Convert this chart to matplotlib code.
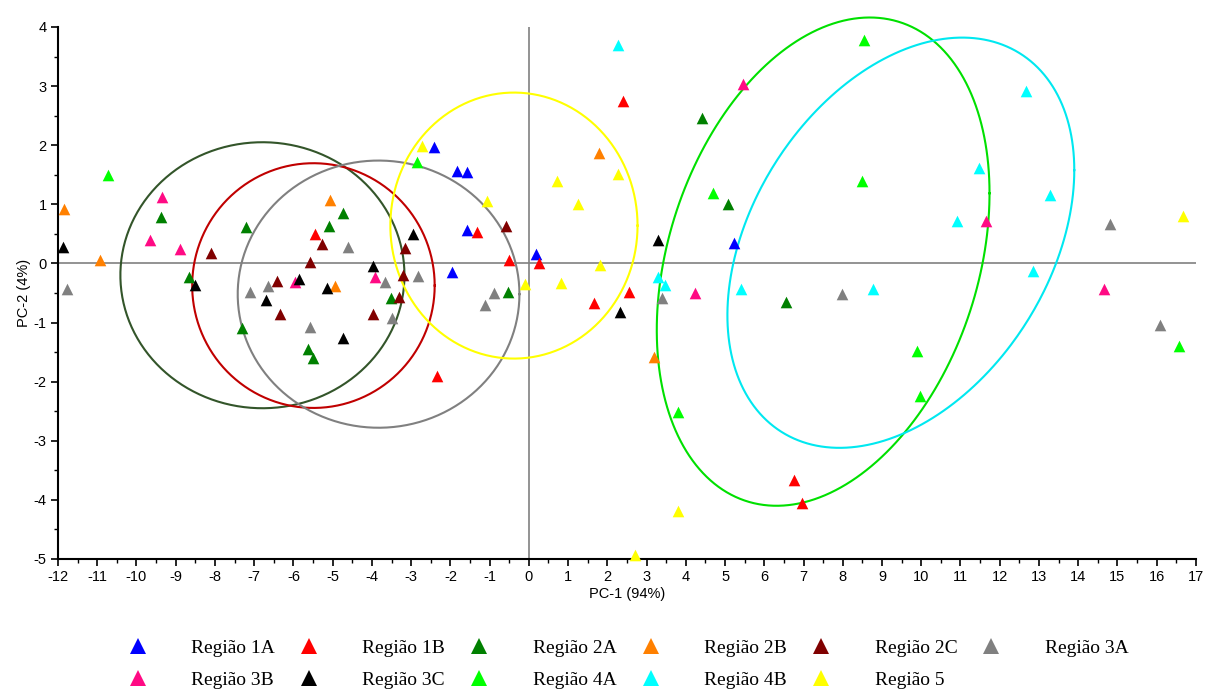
import numpy as np
import matplotlib.pyplot as plt
from matplotlib.lines import Line2D
from matplotlib.ticker import MultipleLocator

# PCA scores, one pair of lists per region
r1a_x = [-2.43, -1.82, -1.57, -1.57, -1.95, 0.19, 5.24]
r1a_y = [1.97, 1.57, 1.55, 0.57, -0.14, 0.16, 0.35]
r1b_x = [2.41, -1.31, -0.50, 0.27, 2.56, 1.67, -2.33, -5.46, 6.75, 6.95]
r1b_y = [2.75, 0.53, 0.05, 0.00, -0.48, -0.67, -1.91, 0.50, -3.67, -4.05]
r2a_x = [-9.37, -8.67, -7.22, -5.10, -4.73, -7.30, -5.64, -5.49, -3.51, -0.52, 4.42, 5.08, 6.56]
r2a_y = [0.79, -0.23, 0.62, 0.64, 0.85, -1.09, -1.44, -1.60, -0.59, -0.48, 2.46, 1.00, -0.65]
r2b_x = [-11.84, -10.92, -5.08, -4.93, 1.80, 3.20]
r2b_y = [0.92, 0.05, 1.08, -0.38, 1.87, -1.58]
r2c_x = [-8.10, -6.41, -5.58, -5.28, -6.33, -3.97, -3.32, -3.15, -3.20, -0.58]
r2c_y = [0.18, -0.29, 0.02, 0.33, -0.86, -0.85, -0.56, 0.26, -0.20, 0.64]
r3a_x = [-11.78, -7.10, -6.64, -4.62, -3.66, -5.58, -3.50, -2.82, -0.90, -1.11, 3.40, 7.99, 16.09, 14.82]
r3a_y = [-0.44, -0.49, -0.38, 0.28, -0.32, -1.08, -0.92, -0.21, -0.50, -0.71, -0.59, -0.52, -1.05, 0.67]
r3b_x = [-9.34, -9.65, -8.90, -5.96, -3.93, 5.46, 4.24, 11.66, 14.66]
r3b_y = [1.12, 0.39, 0.24, -0.32, -0.23, 3.03, -0.50, 0.71, -0.43]
r3c_x = [-11.87, -8.50, -5.86, -5.15, -3.97, -6.69, -4.74, -2.94, 3.30, 2.33]
r3c_y = [0.28, -0.36, -0.27, -0.42, -0.05, -0.62, -1.27, 0.50, 0.40, -0.82]
r4a_x = [-10.72, -2.85, 4.70, 8.55, 8.48, 9.90, 9.98, 16.58, 3.79]
r4a_y = [1.50, 1.72, 1.19, 3.78, 1.40, -1.49, -2.25, -1.39, -2.52]
r4b_x = [2.26, 3.28, 3.48, 5.41, 12.68, 11.46, 13.29, 10.92, 12.86, 8.76]
r4b_y = [3.69, -0.23, -0.36, -0.44, 2.91, 1.61, 1.16, 0.71, -0.12, -0.43]
r5_x = [-2.72, -1.06, 0.73, 1.24, 2.28, 1.82, -0.11, 0.83, 3.81, 2.71, 16.68]
r5_y = [1.99, 1.06, 1.40, 1.00, 1.51, -0.02, -0.35, -0.33, -4.18, -4.94, 0.80]

region_names = ['Região 1A', 'Região 1B', 'Região 2A', 'Região 2B', 'Região 2C', 'Região 3A',
                'Região 3B', 'Região 3C', 'Região 4A', 'Região 4B', 'Região 5']
region_colors = ['#0000ff', '#ff0000', '#008000', '#ff8000', '#800000', '#808080',
                 '#ff0a84', '#000000', '#00ff00', '#00ffff', '#ffff00']
region_x = [r1a_x, r1b_x, r2a_x, r2b_x, r2c_x, r3a_x, r3b_x, r3c_x, r4a_x, r4b_x, r5_x]
region_y = [r1a_y, r1b_y, r2a_y, r2b_y, r2c_y, r3a_y, r3b_y, r3c_y, r4a_y, r4b_y, r5_y]

# confidence ellipses: centre, half extents, and x/y coupling (0 = axis aligned)
ell_cx = [-6.79, -5.49, -3.83, -0.38, 7.50, 9.48]
ell_cy = [-0.20, -0.375, -0.52, 0.64, 0.03, 0.35]
ell_hx = [3.62, 3.09, 3.59, 3.15, 4.24, 4.42]
ell_hy = [2.25, 2.07, 2.26, 2.25, 4.13, 3.47]
ell_k = [0.0, 0.0, 0.0, 0.0, 0.28, 0.354]
ell_colors = ['#33552a', '#c00000', '#808080', '#ffff00', '#00e000', '#00e8f0']


def ellipse_points(cx, cy, hx, hy, k, n=400):
    t = np.linspace(0, 2 * np.pi, n)
    phi = np.arccos(k)
    return cx + hx * np.cos(t), cy + hy * np.cos(t - phi)


def main():
    plt.rcParams['font.family'] = ['Liberation Sans', 'DejaVu Sans']
    plt.rcParams['axes.unicode_minus'] = False
    fig = plt.figure(figsize=(12.08, 6.93), dpi=100)
    ax = fig.add_axes([0.048, 0.1934, 0.942, 0.7677])

    ax.axhline(0, color='#808080', lw=1.2, zorder=1)
    ax.axvline(0, color='#808080', lw=1.2, zorder=1)

    for cx, cy, hx, hy, k, c in zip(ell_cx, ell_cy, ell_hx, ell_hy, ell_k, ell_colors):
        ex, ey = ellipse_points(cx, cy, hx, hy, k)
        ax.plot(ex, ey, color=c, lw=1.5, zorder=2, clip_on=False)

    for xs, ys, c in zip(region_x, region_y, region_colors):
        ax.scatter(xs, ys, marker='^', s=70, color=c, linewidths=0, zorder=3, clip_on=False)

    ax.set_xlim(-12, 17)
    ax.set_ylim(-5, 4)
    ax.xaxis.set_major_locator(MultipleLocator(1))
    ax.xaxis.set_minor_locator(MultipleLocator(0.5))
    ax.yaxis.set_major_locator(MultipleLocator(1))
    ax.yaxis.set_minor_locator(MultipleLocator(0.5))
    ax.tick_params(which='major', direction='out', length=5, width=1.2, labelsize=10.5, pad=3)
    ax.tick_params(which='minor', direction='out', length=3, width=1.0)
    for side in ['top', 'right']:
        ax.spines[side].set_visible(False)
    for side in ['left', 'bottom']:
        ax.spines[side].set_linewidth(1.5)

    ax.set_xlabel('PC-1 (94%)', fontsize=10.5, labelpad=2)
    ax.set_ylabel('PC-2 (4%)', fontsize=10.5, labelpad=2)

    handles = [Line2D([], [], marker='^', linestyle='none', markersize=11, color=c, markeredgewidth=0)
               for c in region_colors]
    # legend fills column by column, so interleave to get the two rows of the reference
    order = [0, 6, 1, 7, 2, 8, 3, 9, 4, 10, 5]
    fig.legend([handles[i] for i in order], [region_names[i] for i in order],
               loc='upper center', bbox_to_anchor=(0.518, 0.092),
               ncol=6, frameon=False, prop={'family': 'Liberation Serif', 'size': 14},
               handlelength=1.5, handletextpad=2.0, columnspacing=1.0, labelspacing=0.75,
               borderpad=0)

    fig.savefig('out.png', dpi=100)
    plt.close(fig)


if __name__ == '__main__':
    main()
